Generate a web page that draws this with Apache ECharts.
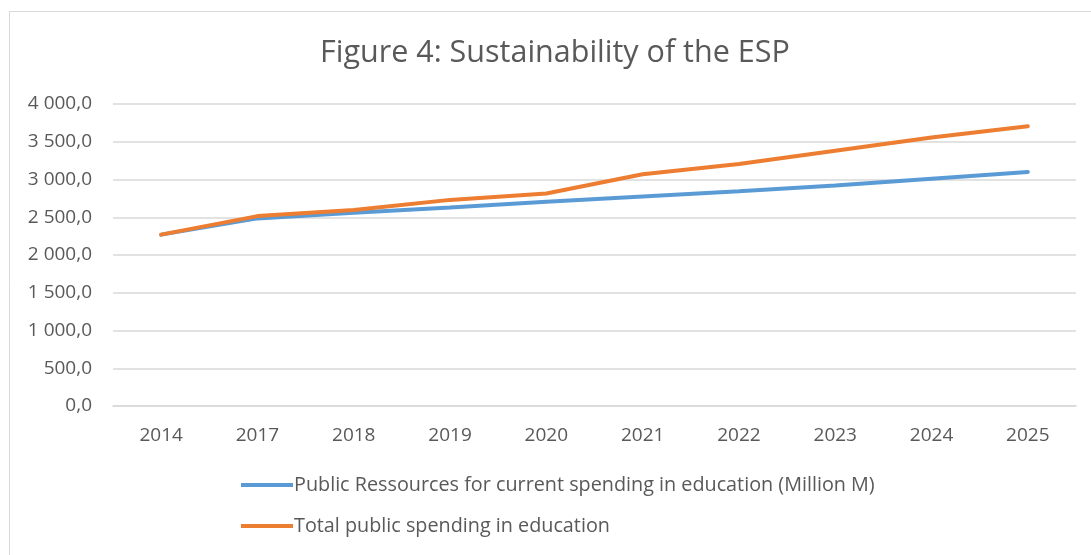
<!DOCTYPE html>
<html>
<head>
<meta charset="utf-8">
<script src="https://cdn.jsdelivr.net/npm/echarts@6/dist/echarts.min.js"></script>
<style>html,body{margin:0;padding:0;background:#fff}#c{width:1091px;height:555px}</style>
</head>
<body>
<div id="c"></div>
<script>
const categories = ['2014','2017','2018','2019','2020','2021','2022','2023','2024','2025'];
const publicResources = [2270, 2485, 2560, 2630, 2705, 2775, 2845, 2920, 3010, 3100];
const totalSpending = [2270, 2515, 2595, 2730, 2815, 3070, 3205, 3380, 3555, 3705];
const seriesNames = ['Public Ressources for current spending in education (Million M)', 'Total public spending in education'];
const titleText = 'Figure 4: Sustainability of the ESP';

function fmt(v){
  const s = v.toFixed(1).split('.');
  const intPart = s[0].replace(/\B(?=(\d{3})+(?!\d))/g, ' ');
  return intPart + ',' + s[1];
}
const font = 'Open Sans';
const chart = echarts.init(document.getElementById('c'));
chart.setOption({
  animation: false,
  textStyle: {fontFamily: font},
  graphic: [{type:'rect', shape:{x:9.5,y:11.5,width:1200,height:600}, style:{fill:'none', stroke:'#d9d9d9', lineWidth:1}, silent:true}],
  title: {text: titleText, left: 320, top: 38, padding: 0, textStyle:{fontFamily: font, fontSize: 30.5, fontWeight: 'normal', color:'#595959'}},
  grid: {left: 113, right: 15, top: 104, bottom: 149},
  legend: {orient:'vertical', left: 241, top: 475, padding: 0, itemGap: 21, itemWidth: 52, itemHeight: 4, icon:'rect',
    textStyle:{fontFamily: font, fontSize: 19.8, color:'#595959', padding:[0,0,0,-4]},
    data: seriesNames},
  xAxis: {type:'category', data: categories, boundaryGap: true,
    axisLine:{show:true, lineStyle:{color:'#d9d9d9', width:1.5}}, axisTick:{show:false},
    axisLabel:{fontFamily: font, fontSize: 19, color:'#595959', margin: 20}},
  yAxis: {type:'value', min:0, max:4000, interval:500,
    axisLine:{show:false}, axisTick:{show:false},
    splitLine:{lineStyle:{color:'#d9d9d9', width:1.5}},
    axisLabel:{fontFamily: font, fontSize: 19, color:'#595959', margin: 21, formatter: fmt}},
  series: [
    {name: seriesNames[0], type:'line', data: publicResources, symbol:'none', lineStyle:{color:'#5b9bd5', width:4, cap:'round'}, itemStyle:{color:'#5b9bd5'}},
    {name: seriesNames[1], type:'line', data: totalSpending, symbol:'none', lineStyle:{color:'#ed7d31', width:4, cap:'round'}, itemStyle:{color:'#ed7d31'}}
  ]
});
</script>
</body>
</html>
